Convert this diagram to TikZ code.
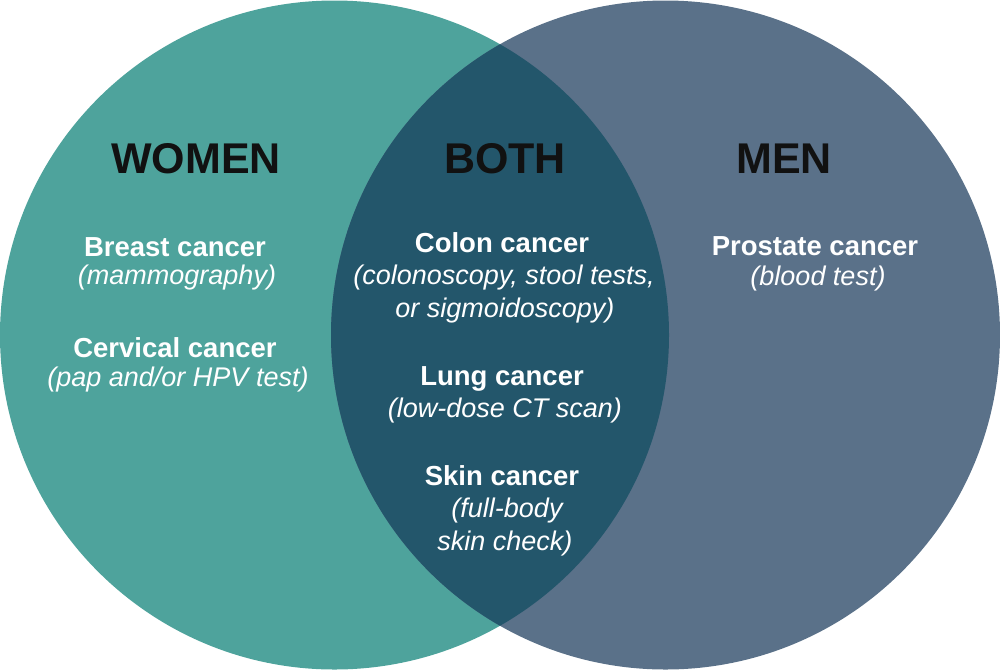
\documentclass[tikz,border=0pt]{standalone}
\usepackage{fontspec}
\setmainfont{Liberation Sans}
\definecolor{womencol}{HTML}{4EA39C}
\definecolor{mencol}{HTML}{5A7189}
\definecolor{bothcol}{HTML}{23566B}
\definecolor{titlecol}{HTML}{111111}
\tikzset{
  title/.style={anchor=base, text=titlecol, font=\fontsize{43}{43}\selectfont\bfseries},
  head/.style={anchor=base, text=white, font=\fontsize{27.5}{27.5}\selectfont\bfseries, inner sep=0pt},
  sub/.style={anchor=base, text=white, font=\fontsize{27}{27}\selectfont\itshape, inner sep=0pt},
}
\begin{document}
\begin{tikzpicture}[x=1pt,y=-1pt]
\useasboundingbox (0,0) rectangle (1000,670);
\fill[womencol] (334.5,335) circle[radius=334.5];
\fill[mencol] (665.5,335) circle[radius=334.5];
\begin{scope}
\clip (334.5,335) circle[radius=334.5];
\fill[bothcol] (665.5,335) circle[radius=334.5];
\end{scope}
% titles
\node[title] (tw) at (196,173) {WOMEN};
\node[title] (tb) at (505,173) {BOTH};
\node[title] (tm) at (784,173) {MEN};
% women
\node[head] (w1) at (175,256) {Breast cancer};
\node[sub] (w1s) at (177,284) {(mammography)};
\node[head] (w2) at (175,357) {Cervical cancer};
\node[sub] (w2s) at (178,386) {(pap and/or HPV test)};
% both
\node[head] (b1) at (502,252) {Colon cancer};
\node[sub] (b1s) at (504,284) {(colonoscopy, stool tests,};
\node[sub] (b1t) at (505,317) {or sigmoidoscopy)};
\node[head] (b2) at (502,385) {Lung cancer};
\node[sub] (b2s) at (505,417) {(low-dose CT scan)};
\node[head] (b3) at (502,485) {Skin cancer};
\node[sub] (b3s) at (507,517) {(full-body};
\node[sub] (b3t) at (505,550) {skin check)};
% men
\node[head] (m1) at (815,255) {Prostate cancer};
\node[sub] (m1s) at (818,285) {(blood test)};
\end{tikzpicture}
\end{document}
